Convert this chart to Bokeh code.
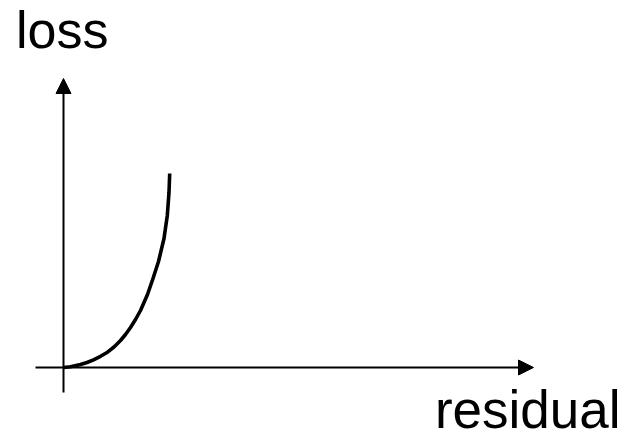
from bokeh.plotting import figure
from bokeh.models import Range1d, Arrow, NormalHead
from bokeh.core.properties import value
from bokeh.embed import file_html
from bokeh.resources import INLINE

# Curve (residual, loss) in arbitrary units
residual = [0.0, 0.7, 1.7, 2.35, 3.0, 3.7, 4.4, 5.05, 5.7, 6.2, 6.7, 7.2, 7.7,
            8.4, 8.95, 9.5, 10.05, 10.38, 10.55, 10.62]
loss = [0.0, 0.07, 0.3, 0.5, 0.77, 1.12, 1.53, 2.05, 2.7, 3.3, 4.0, 4.8, 5.7,
        7.3, 8.9, 10.6, 12.9, 15.2, 17.5, 19.4]

# Axis extents (arrow start/end)
x_axis_start, x_axis_end = -2.8, 47.0
y_axis_start, y_axis_end = -2.5, 28.9

# Labels
y_label = "loss"
x_label = "residual"

p = figure(width=628, height=438, output_backend="svg", toolbar_location=None,
           x_range=Range1d(-6.3, 56.5), y_range=Range1d(-7.1, 36.7),
           min_border=0)
p.xaxis.visible = False
p.yaxis.visible = False
p.grid.visible = False
p.outline_line_color = None
p.background_fill_color = "white"
p.border_fill_color = "white"

# Axes as arrows
p.add_layout(Arrow(x_start=x_axis_start, y_start=0, x_end=x_axis_end, y_end=0,
                   line_width=2, line_color="black",
                   end=NormalHead(size=15, fill_color="black", line_color="black", line_width=1)))
p.add_layout(Arrow(x_start=0, y_start=y_axis_start, x_end=0, y_end=y_axis_end,
                   line_width=2, line_color="black",
                   end=NormalHead(size=15, fill_color="black", line_color="black", line_width=1)))

# Curve
p.line(residual, loss, line_width=3.6, line_color="black", line_join="round")

# Labels
p.text(x=[-4.75], y=[33.8], text=[y_label], text_font=value("Liberation Sans"),
       text_font_size="52px", text_baseline="alphabetic", text_align="left",
       text_color="black")
p.text(x=[37.14], y=[-4.2], text=[x_label], text_font=value("Liberation Sans"),
       text_font_size="53px", text_baseline="alphabetic", text_align="left",
       text_color="black")

open("out.html", "w").write(file_html(p, INLINE))
